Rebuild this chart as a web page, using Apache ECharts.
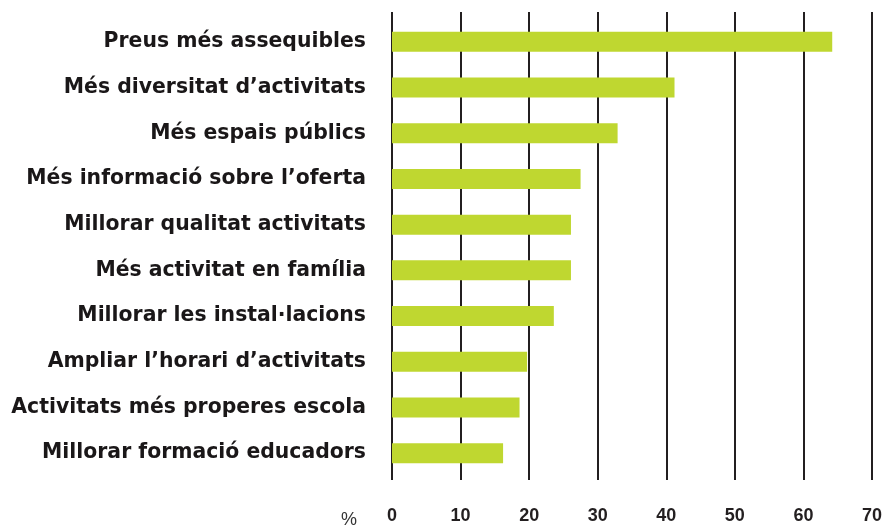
<!DOCTYPE html>
<html>
<head>
<meta charset="utf-8">
<script src="https://cdn.jsdelivr.net/npm/echarts@6/dist/echarts.min.js"></script>
<style>
html,body{margin:0;padding:0;background:#fff;}
#chart{width:885px;height:525px;}
</style>
</head>
<body>
<div id="chart"></div>
<script>
const categories = [
  "Preus més assequibles",
  "Més diversitat d’activitats",
  "Més espais públics",
  "Més informació sobre l’oferta",
  "Millorar qualitat activitats",
  "Més activitat en família",
  "Millorar les instal·lacions",
  "Ampliar l’horari d’activitats",
  "Activitats més properes escola",
  "Millorar formació educadors"
];
const values = [64.2, 41.2, 32.9, 27.5, 26.1, 26.1, 23.6, 19.7, 18.6, 16.2];
const axisMin = 0, axisMax = 70, axisStep = 10;
const unitLabel = "%";

const chart = echarts.init(document.getElementById('chart'), null, {renderer: 'canvas'});
const labelFont = '"DejaVu Sans", "Liberation Sans", Arial, sans-serif';
const font = '"Liberation Sans", Arial, sans-serif';
const dark = '#231f20';
chart.setOption({
  backgroundColor: '#ffffff',
  animation: false,
  grid: [
    {left: 392, right: 13, top: 12, height: 475, containLabel: false},
    {left: 392, right: 13, top: 19, height: 457, containLabel: false}
  ],
  xAxis: [
    {
      gridIndex: 0, type: 'value', min: axisMin, max: axisMax, interval: axisStep,
      axisLine: {show: false}, axisTick: {show: false},
      splitLine: {show: true, lineStyle: {color: dark, width: 2}},
      axisLabel: {show: true, margin: 27, color: dark, fontFamily: font, fontWeight: 'bold', fontSize: 18}
    },
    {
      gridIndex: 1, type: 'value', min: axisMin, max: axisMax, interval: axisStep,
      show: false
    }
  ],
  yAxis: [
    {gridIndex: 0, type: 'value', show: false, min: 0, max: 1},
    {
      gridIndex: 1, type: 'category', data: categories, inverse: true,
      axisLine: {show: false}, axisTick: {show: false}, splitLine: {show: false},
      axisLabel: {margin: 26, color: '#1a1718', fontFamily: labelFont, fontWeight: 'bold', fontSize: 20.4}
    }
  ],
  graphic: [
    {type: 'text', left: 341, top: 511, style: {text: unitLabel, fill: '#333', font: '18px ' + font}}
  ],
  series: [
    {
      type: 'bar', xAxisIndex: 1, yAxisIndex: 1, data: values,
      barWidth: 20, itemStyle: {color: '#bfd730'}, z: 3
    }
  ]
});
</script>
</body>
</html>
